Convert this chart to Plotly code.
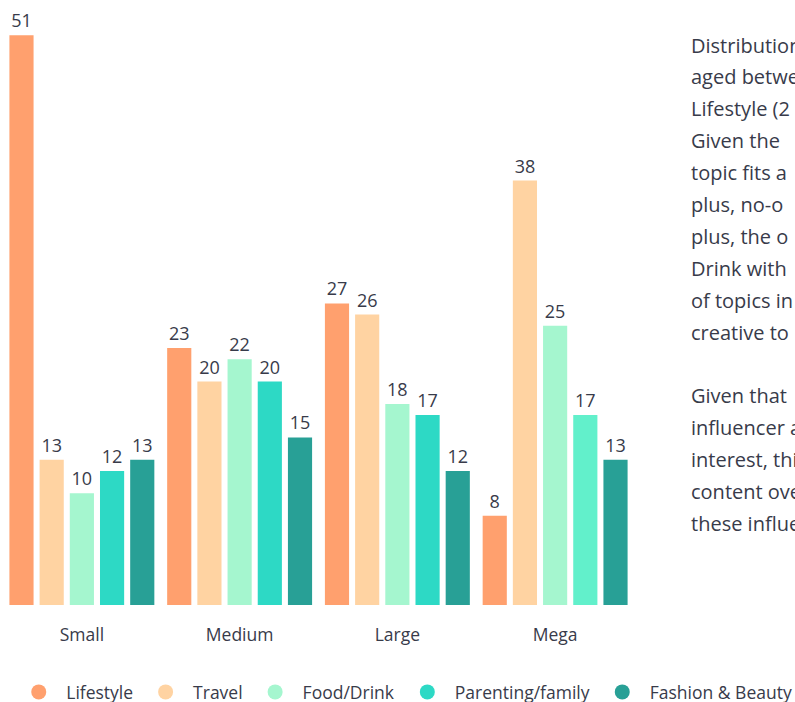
import plotly.graph_objects as go

# Influencer tiers and the share (%) of each content topic
tiers = ["Small", "Medium", "Large", "Mega"]
topics = ["Lifestyle", "Travel", "Food/Drink", "Parenting/family", "Fashion & Beauty"]
lifestyle = [51, 23, 27, 8]
travel = [13, 20, 26, 38]
food_drink = [10, 22, 18, 25]
parenting = [12, 20, 17, 17]
fashion = [13, 15, 12, 13]

series = [lifestyle, travel, food_drink, parenting, fashion]
colors = ["#FFA06E", "#FFD3A2", "#A5F6CF", "#2DD9C5", "#28A096"]
# the Mega parenting bar is shown in a lighter mint
parenting_colors = ["#2DD9C5", "#2DD9C5", "#2DD9C5", "#62F0CB"]

side_text = [
    "Distribution of",
    "aged between",
    "Lifestyle (2",
    "Given the",
    "topic fits a",
    "plus, no-o",
    "plus, the o",
    "Drink with",
    "of topics in",
    "creative to",
    "",
    "Given that",
    "influencer a",
    "interest, this",
    "content over",
    "these influen",
]

FONT = "'Open Sans', Lato, sans-serif"
INK = "#383B4A"

fig = go.Figure()

for name, vals, col in zip(topics, series, colors):
    marker_col = parenting_colors if name == "Parenting/family" else col
    fig.add_trace(go.Bar(
        x=tiers, y=vals, name=name,
        marker=dict(color=marker_col, line=dict(width=0)),
        text=[str(v) for v in vals], textposition="outside",
        textfont=dict(size=18, color=INK, family=FONT),
        constraintext="none", cliponaxis=False,
        showlegend=False, hoverinfo="x+y+name",
    ))

# round legend swatches
for name, col in zip(topics, colors):
    fig.add_trace(go.Scatter(
        x=[None], y=[None], mode="markers", name=name,
        marker=dict(color=col, size=15, symbol="circle"),
    ))

W, H = 795, 702
ml, mr, mt, mb = 2.5, 160.5, 13, 97
plot_h = H - mt - mb
plot_w = W - ml - mr

annotations = []
line_top = 45
line_step = 31.9
for i, line in enumerate(side_text):
    if not line:
        continue
    ypx = line_top + i * line_step
    annotations.append(dict(
        text=line, xref="paper", yref="paper",
        x=(690 - ml) / plot_w, y=(H - mb - ypx) / plot_h,
        xanchor="left", yanchor="middle", showarrow=False,
        font=dict(size=20, color=INK, family=FONT), align="left",
    ))

fig.update_layout(
    width=W, height=H,
    margin=dict(l=ml, r=mr, t=mt, b=mb, autoexpand=False),
    paper_bgcolor="white", plot_bgcolor="white",
    barmode="group", bargap=0.043, bargroupgap=0.2,
    font=dict(family=FONT, color=INK),
    xaxis=dict(
        categoryorder="array", categoryarray=tiers,
        showgrid=False, zeroline=False, showline=False,
        ticks="outside", ticklen=14, tickcolor="rgba(0,0,0,0)",
        tickfont=dict(size=17.5, color=INK, family=FONT),
    ),
    yaxis=dict(range=[0, 53], visible=False, showgrid=False, zeroline=False),
    legend=dict(
        orientation="h", x=(798 - ml) / plot_w, xanchor="right",
        y=-(692 - (H - mb)) / plot_h, yanchor="middle",
        font=dict(size=17.5, color=INK, family=FONT),
        itemsizing="trace", itemwidth=45, traceorder="normal",
        bgcolor="rgba(0,0,0,0)",
    ),
    annotations=annotations,
)

fig.write_html("out.html")
